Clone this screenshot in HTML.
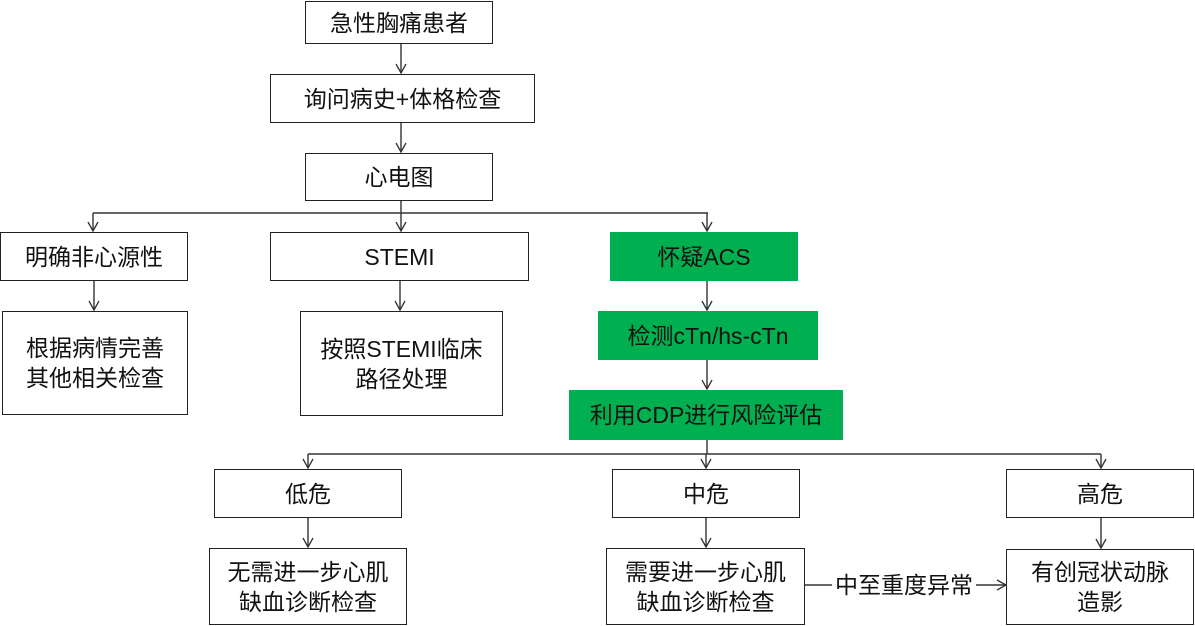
<!DOCTYPE html>
<html><head><meta charset="utf-8"><style>
html,body{margin:0;padding:0;background:#fff;}
body{width:1195px;height:626px;position:relative;overflow:hidden;font-family:"Liberation Sans","Noto Sans CJK SC",sans-serif;}
.b{position:absolute;box-sizing:border-box;border:1.3px solid #222;background:#fff;display:flex;align-items:center;justify-content:center;text-align:center;font-size:23px;line-height:30px;color:#111;}
.g{background:#00B050;border:none;}
svg{position:absolute;left:0;top:0;}
.lbl{position:absolute;font-size:23px;line-height:30px;color:#111;background:#fff;}
</style></head><body>
<svg width="1195" height="626" viewBox="0 0 1195 626">
<defs><marker id="a" markerWidth="12" markerHeight="12" refX="10" refY="6" orient="auto" markerUnits="userSpaceOnUse"><path d="M1,1 L10,6 L1,11" fill="none" stroke="#333" stroke-width="1.3"/></marker></defs>
<g stroke="#333" stroke-width="1.4" fill="none">
<line x1="401" y1="43" x2="401" y2="73" marker-end="url(#a)"/>
<line x1="401" y1="122" x2="401" y2="152" marker-end="url(#a)"/>
<line x1="401" y1="201" x2="401" y2="213"/>
<line x1="93" y1="213" x2="708" y2="213"/>
<line x1="93" y1="213" x2="93" y2="231" marker-end="url(#a)"/>
<line x1="401" y1="213" x2="401" y2="231" marker-end="url(#a)"/>
<line x1="707" y1="213" x2="707" y2="231" marker-end="url(#a)"/>
<line x1="94" y1="280" x2="94" y2="310" marker-end="url(#a)"/>
<line x1="400" y1="280" x2="400" y2="310" marker-end="url(#a)"/>
<line x1="707" y1="281" x2="707" y2="310" marker-end="url(#a)"/>
<line x1="707" y1="360" x2="707" y2="389" marker-end="url(#a)"/>
<line x1="707" y1="440" x2="707" y2="454"/>
<line x1="308" y1="454" x2="1101" y2="454"/>
<line x1="308" y1="454" x2="308" y2="468" marker-end="url(#a)"/>
<line x1="706" y1="454" x2="706" y2="468" marker-end="url(#a)"/>
<line x1="1101" y1="454" x2="1101" y2="468" marker-end="url(#a)"/>
<line x1="308" y1="518" x2="308" y2="547" marker-end="url(#a)"/>
<line x1="706" y1="518" x2="706" y2="547" marker-end="url(#a)"/>
<line x1="1101" y1="518" x2="1101" y2="548" marker-end="url(#a)"/>
<line x1="804" y1="585" x2="1006" y2="585" marker-end="url(#a)"/>
</g>
</svg>
<div class="b" style="left:305px;top:1px;width:188px;height:43px;">急性胸痛患者</div>
<div class="b" style="left:270px;top:74px;width:265px;height:49px;">询问病史+体格检查</div>
<div class="b" style="left:305px;top:153px;width:188px;height:48px;">心电图</div>
<div class="b" style="left:0px;top:232px;width:188px;height:49px;">明确非心源性</div>
<div class="b" style="left:270px;top:232px;width:259px;height:49px;">STEMI</div>
<div class="b g" style="left:610px;top:232px;width:188px;height:49px;">怀疑ACS</div>
<div class="b" style="left:2px;top:311px;width:186px;height:104px;">根据病情完善<br>其他相关检查</div>
<div class="b" style="left:300px;top:311px;width:203px;height:105px;">按照STEMI临床<br>路径处理</div>
<div class="b g" style="left:598px;top:311px;width:220px;height:49px;">检测cTn/hs-cTn</div>
<div class="b g" style="left:569px;top:390px;width:274px;height:50px;">利用CDP进行风险评估</div>
<div class="b" style="left:214px;top:469px;width:188px;height:49px;">低危</div>
<div class="b" style="left:612px;top:469px;width:188px;height:49px;">中危</div>
<div class="b" style="left:1006px;top:469px;width:188px;height:49px;">高危</div>
<div class="b" style="left:209px;top:548px;width:198px;height:77px;">无需进一步心肌<br>缺血诊断检查</div>
<div class="b" style="left:606px;top:548px;width:199px;height:77px;">需要进一步心肌<br>缺血诊断检查</div>
<div class="b" style="left:1006px;top:549px;width:188px;height:76px;">有创冠状动脉<br>造影</div>
<div class="lbl" style="left:832px;top:570px;padding:0 3px;">中至重度异常</div>
</body></html>
